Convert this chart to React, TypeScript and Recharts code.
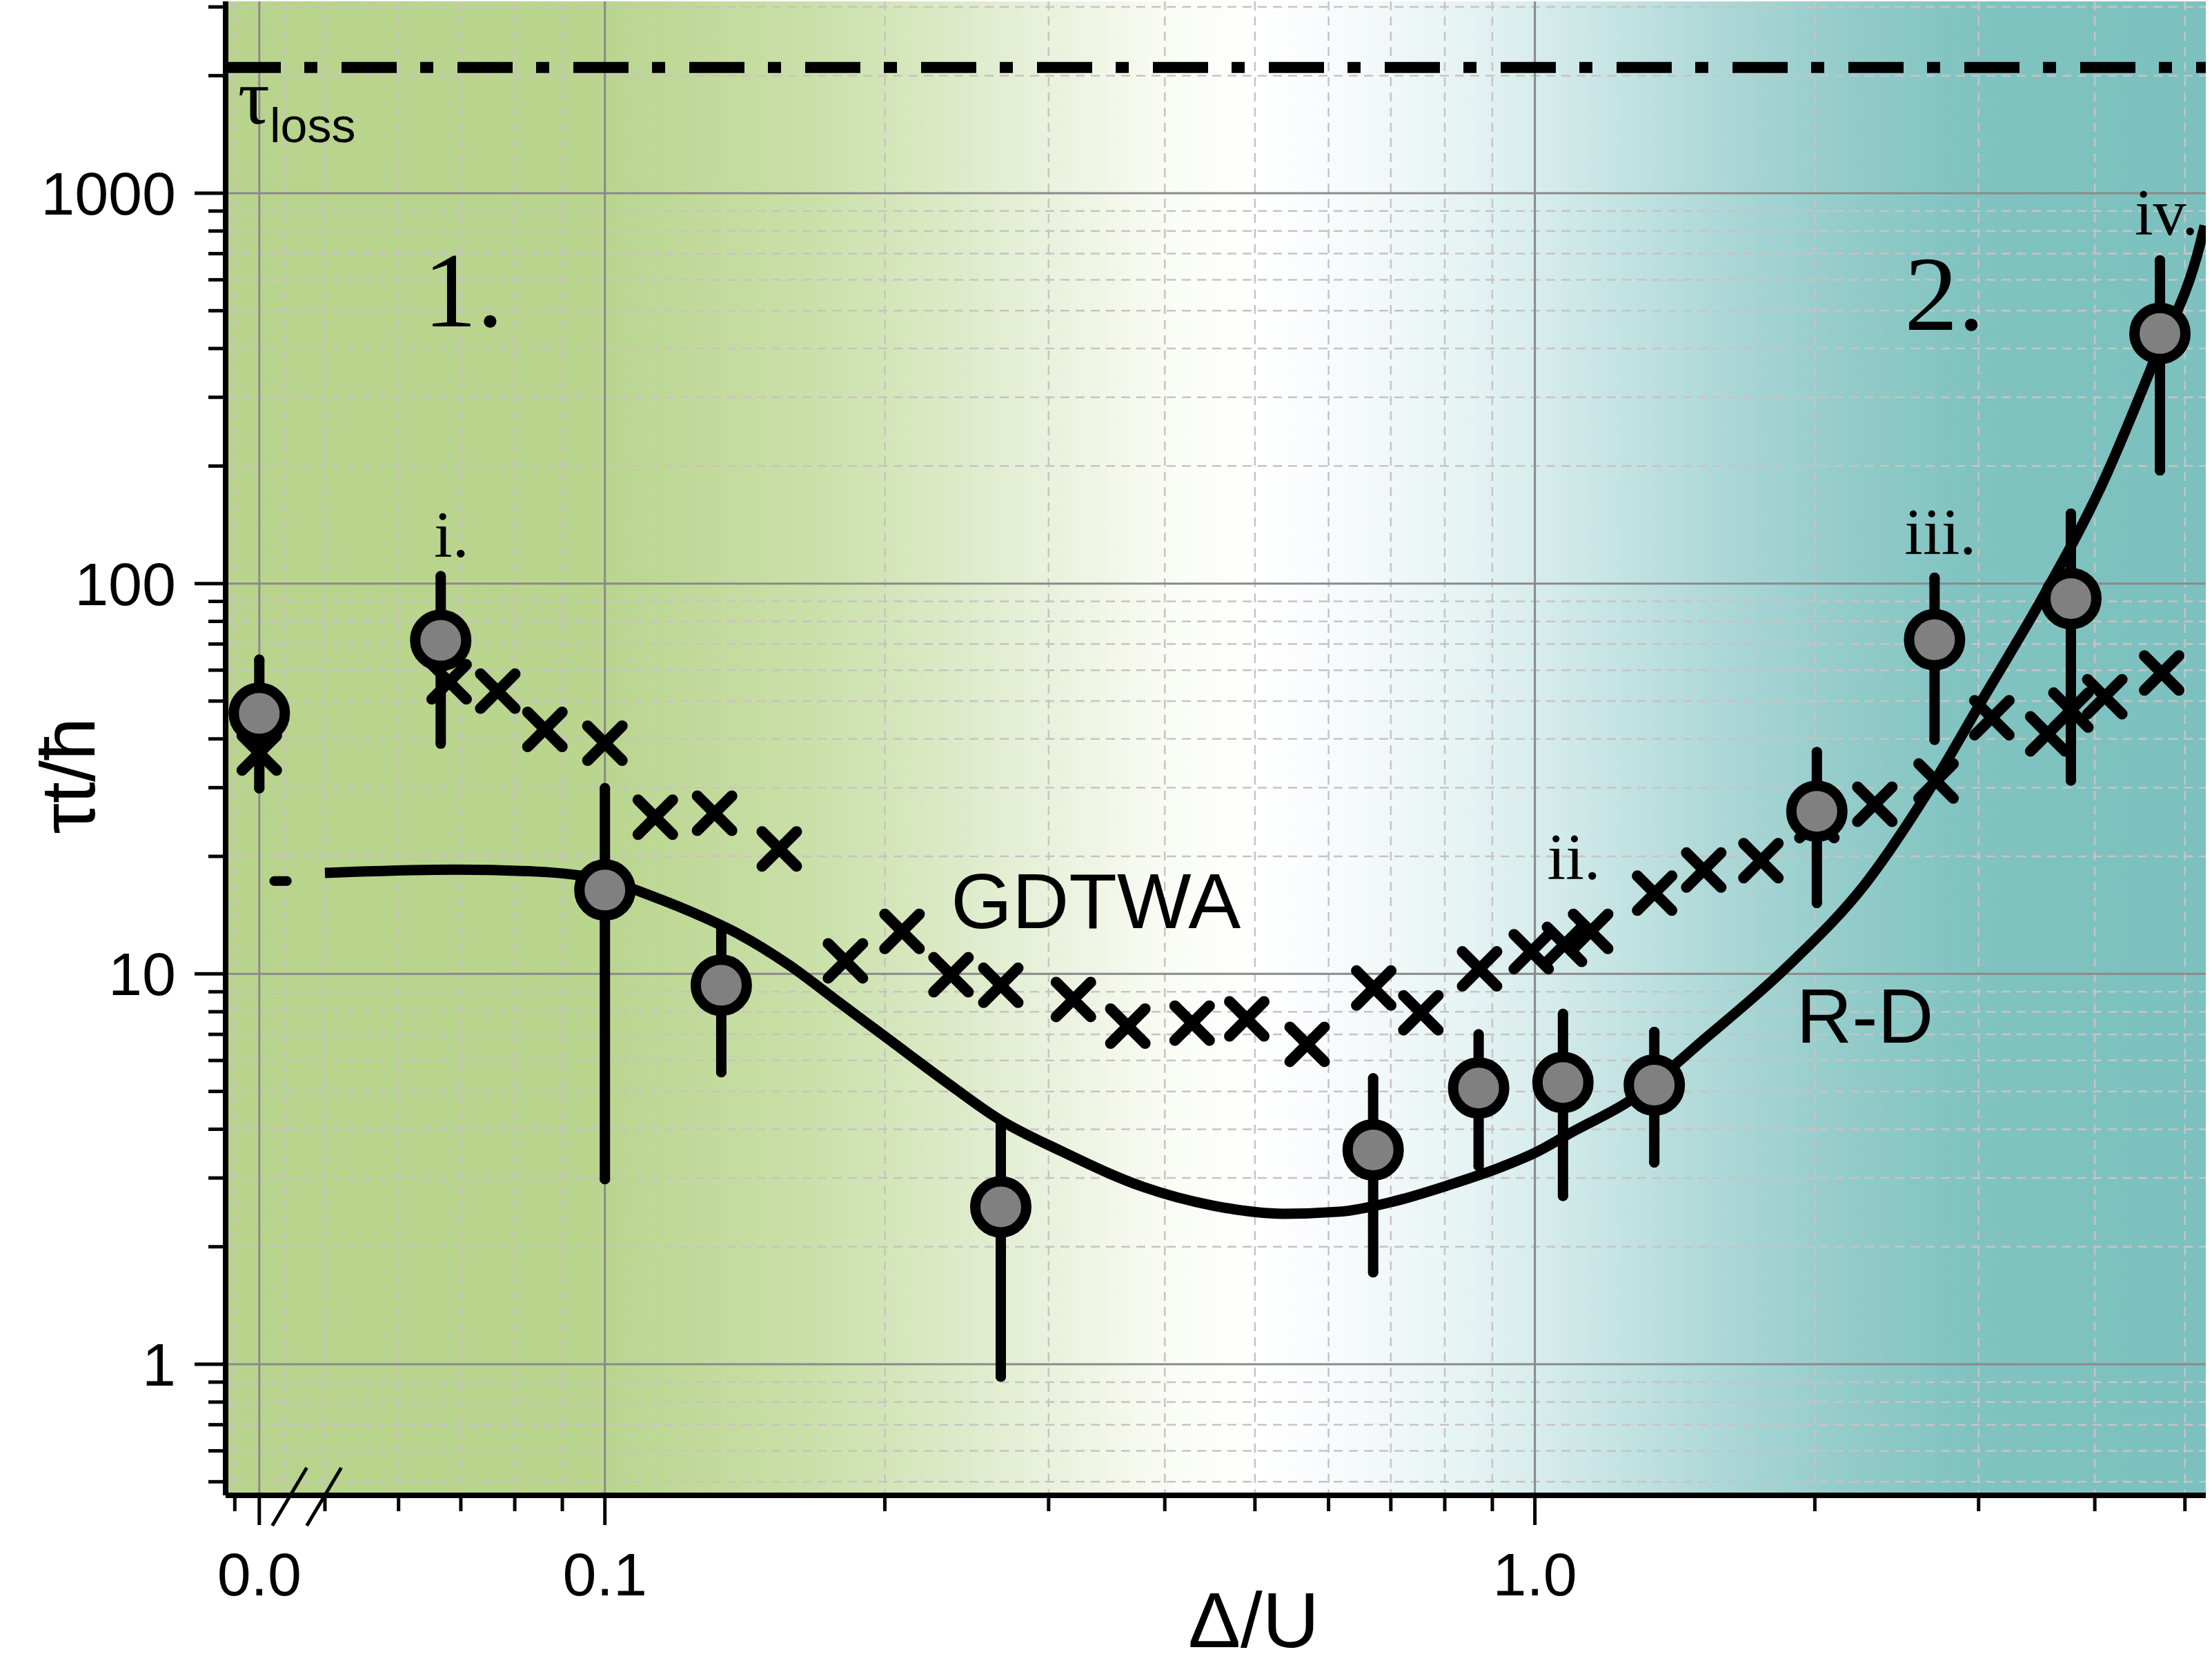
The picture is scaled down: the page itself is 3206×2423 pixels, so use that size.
import React from 'react';
import {
  ComposedChart,
  XAxis,
  YAxis,
  Scatter,
  Line,
  ErrorBar,
  ReferenceLine,
  ReferenceDot,
  CartesianGrid,
  Label,
} from 'recharts';

const SANS = '"Liberation Sans", Arial, Helvetica, sans-serif';
const SERIF = '"Liberation Serif", "Times New Roman", serif';

// position on the log axis where the broken-axis value "0.0" is drawn
const ZERO_X = 0.0425;
const BREAK_X = 0.0478;
const X_DOMAIN: [number, number] = [0.0391, 5.265];
const Y_DOMAIN: [number, number] = [0.4615, 3100];

const X_MAJOR_TICKS = [ZERO_X, 0.1, 1];
const X_MAJOR_LABELS = ['0.0', '0.1', '1.0'];
const X_MINOR_TICKS = [0.04, 0.05, 0.06, 0.07, 0.08, 0.09, 0.2, 0.3, 0.4, 0.5, 0.6, 0.7, 0.8, 0.9, 2, 3, 4, 5];
const X_MINOR_GRID = [0.04, 0.0452, 0.05, 0.06, 0.07, 0.08, 0.09, 0.2, 0.3, 0.4, 0.5, 0.6, 0.7, 0.8, 0.9, 2, 3, 4, 5];
const Y_MAJOR_TICKS = [1, 10, 100, 1000];
const Y_MAJOR_LABELS = ['1', '10', '100', '1000'];
const Y_MINOR_TICKS = [
  0.5, 0.6, 0.7, 0.8, 0.9, 2, 3, 4, 5, 6, 7, 8, 9, 20, 30, 40, 50, 60, 70, 80, 90,
  200, 300, 400, 500, 600, 700, 800, 900, 2000, 3000,
];

const TAU_LOSS = 2100;

// experiment (circles with error bars)
const EXP_X = [ZERO_X, 0.0666, 0.1, 0.1334, 0.2665, 0.67, 0.87, 1.072, 1.344, 2.01, 2.69, 3.77, 4.7];
const EXP_Y = [46.5, 71.5, 16.4, 9.35, 2.53, 3.54, 5.1, 5.27, 5.19, 26.1, 71.8, 91.5, 437];
const EXP_LO = [29.9, 38.9, 2.98, 5.6, 0.93, 1.72, 3.22, 2.7, 3.29, 15.2, 39.8, 31.3, 195];
const EXP_HI = [63.8, 104.4, 29.9, 13.2, 4.09, 5.4, 7.0, 7.9, 7.1, 37, 103.5, 151, 672];

// GDTWA (crosses)
const GDTWA_X = [
  ZERO_X, 0.068, 0.0767, 0.0862, 0.1, 0.1133, 0.1312, 0.154, 0.1814, 0.2087, 0.2356, 0.2665,
  0.319, 0.365, 0.428, 0.49, 0.569, 0.671, 0.754, 0.872, 0.991, 1.076, 1.148, 1.345, 1.519,
  1.75, 2.01, 2.32, 2.7, 3.1, 3.56, 3.77, 4.1, 4.72,
];
const GDTWA_Y = [
  36.8, 56, 53, 42.3, 39.0, 25.2, 25.8, 20.9, 10.8, 12.85, 9.95, 9.35,
  8.6, 7.35, 7.48, 7.67, 6.6, 9.2, 7.95, 10.3, 11.4, 11.9, 12.85, 16.1, 18.45,
  19.5, 24.7, 27.2, 31.2, 45.3, 41.2, 47.4, 51.3, 59,
];

// R-D theory curve
const RD_X = [
  0.05, 0.069, 0.0839, 0.1, 0.1133, 0.1274, 0.1397, 0.1572, 0.179, 0.2041, 0.2324, 0.265,
  0.31, 0.3787, 0.4506, 0.5362, 0.6168, 0.699, 0.809, 0.92, 1.005, 1.1, 1.259, 1.532, 1.865,
  2.27, 2.687, 3.03, 3.51, 4.066, 4.62, 5.2, 5.25,
];
const RD_Y = [
  18.15, 18.5, 18.3, 17.4, 15.7, 14.0, 12.6, 10.6, 8.42, 6.67, 5.3, 4.25,
  3.51, 2.85, 2.55, 2.43, 2.46, 2.6, 2.88, 3.2, 3.5, 3.95, 4.7, 6.9, 10.4,
  17.1, 31.0, 50.5, 91.5, 178, 366, 752, 826,
];
// short R-D segment at Δ/U = 0
const RD_ZERO_X = [0.0441, 0.0455];
const RD_ZERO_Y = [17.3, 17.3];

const ANNOTATIONS = [
  { x: 0.0638, y: 456, text: '1.', size: 155, family: SERIF },
  { x: 2.497, y: 447, text: '2.', size: 155, family: SERIF },
  { x: 0.0655, y: 117, text: 'i.', size: 96, family: SERIF },
  { x: 1.031, y: 17.5, text: 'ii.', size: 96, family: SERIF },
  { x: 2.497, y: 119, text: 'iii.', size: 96, family: SERIF },
  { x: 4.415, y: 783, text: 'iv.', size: 96, family: SERIF },
  { x: 0.2356, y: 13.1, text: 'GDTWA', size: 114, family: SANS },
  { x: 1.91, y: 6.67, text: 'R-D', size: 112, family: SANS },
];

const expData = EXP_X.map((x, i) => ({
  x,
  y: EXP_Y[i],
  err: [EXP_Y[i] - EXP_LO[i], EXP_HI[i] - EXP_Y[i]],
}));
const gdtwaData = GDTWA_X.map((x, i) => ({ x, y: GDTWA_Y[i] }));
const rdData = RD_X.map((x, i) => ({ x, y: RD_Y[i] }));
const rdZeroData = RD_ZERO_X.map((x, i) => ({ x, y: RD_ZERO_Y[i] }));

const X_TICKS = [...X_MAJOR_TICKS, ...X_MINOR_TICKS].sort((a, b) => a - b);
const Y_TICKS = [...Y_MAJOR_TICKS, ...Y_MINOR_TICKS].sort((a, b) => a - b);

const XTick = (props: any) => {
  const { x, y, payload } = props;
  const idx = X_MAJOR_TICKS.indexOf(payload.value);
  const major = idx >= 0;
  return (
    <g>
      <line x1={x} x2={x} y1={y + 2} y2={y + (major ? 43 : 23)} stroke="#000" strokeWidth={5} />
      {major && (
        <text x={x} y={y + 145} textAnchor="middle" fontFamily={SANS} fontSize={88} fill="#000">
          {X_MAJOR_LABELS[idx]}
        </text>
      )}
    </g>
  );
};

const YTick = (props: any) => {
  const { x, y, payload } = props;
  const idx = Y_MAJOR_TICKS.indexOf(payload.value);
  const major = idx >= 0;
  return (
    <g>
      <line x1={x - (major ? 45 : 25)} x2={x - 2} y1={y} y2={y} stroke="#000" strokeWidth={5} />
      {major && (
        <text x={x - 72} y={y + 31} textAnchor="end" fontFamily={SANS} fontSize={88} fill="#000">
          {Y_MAJOR_LABELS[idx]}
        </text>
      )}
    </g>
  );
};

const CircleShape = (p: any) => (
  <circle cx={p.cx} cy={p.cy} r={37} fill="#808080" stroke="#000" strokeWidth={15} />
);

const CrossShape = (p: any) => {
  const s = 25;
  return (
    <g stroke="#000" strokeWidth={16} strokeLinecap="round">
      <line x1={p.cx - s} y1={p.cy - s} x2={p.cx + s} y2={p.cy + s} />
      <line x1={p.cx - s} y1={p.cy + s} x2={p.cx + s} y2={p.cy - s} />
    </g>
  );
};

const XTitle = (props: any) => {
  const vb = props.viewBox || { x: 327, y: 2167, width: 2870, height: 256 };
  return (
    <text x={vb.x + 1490} y={vb.y + 220} textAnchor="middle" fontFamily={SANS} fontSize={114} fill="#000">
      Δ/U
    </text>
  );
};

const YTitle = (props: any) => {
  const vb = props.viewBox || { x: 0, y: 2, width: 327, height: 2165 };
  const cx = vb.x + 137;
  const cy = vb.y + 1122;
  return (
    <text
      x={cx}
      y={cy}
      transform={`rotate(-90, ${cx}, ${cy})`}
      textAnchor="middle"
      fontFamily={SANS}
      fontSize={112}
      fill="#000"
    >
      τt/ħ
    </text>
  );
};

export default function App() {
  return (
    <div style={{ position: 'absolute', left: 0, top: 0, width: 3206, height: 2423, background: '#fff' }}>
      <ComposedChart width={3206} height={2423} margin={{ top: 2, right: 9, bottom: 0, left: 0 }}>
        <defs>
          <linearGradient id="bgGrad" x1="0" y1="0" x2="1" y2="0">
            <stop offset="0" stopColor="#b8d48c" />
            <stop offset="0.19" stopColor="#b9d58e" />
            <stop offset="0.30" stopColor="#cbe0aa" />
            <stop offset="0.40" stopColor="#e5efd6" />
            <stop offset="0.48" stopColor="#fafcf6" />
            <stop offset="0.52" stopColor="#ffffff" />
            <stop offset="0.57" stopColor="#f6fafb" />
            <stop offset="0.62" stopColor="#e8f4f4" />
            <stop offset="0.665" stopColor="#d6ecec" />
            <stop offset="0.74" stopColor="#b3dbda" />
            <stop offset="0.81" stopColor="#96cdcb" />
            <stop offset="0.88" stopColor="#80c3c1" />
            <stop offset="1" stopColor="#7cc1bf" />
          </linearGradient>
        </defs>
        <CartesianGrid
          fill="url(#bgGrad)"
          fillOpacity={1}
          stroke="#c8c3c3"
          strokeWidth={2.5}
          strokeDasharray="13 9"
          horizontalValues={Y_MINOR_TICKS}
          verticalValues={X_MINOR_GRID}
        />
        <CartesianGrid
          stroke="#8a8a8a"
          strokeWidth={3}
          horizontalValues={Y_MAJOR_TICKS}
          verticalValues={X_MAJOR_TICKS}
        />
        <XAxis
          dataKey="x"
          type="number"
          scale="log"
          domain={X_DOMAIN}
          allowDataOverflow
          ticks={X_TICKS}
          interval={0}
          tick={<XTick />}
          tickLine={false}
          tickSize={0}
          tickMargin={0}
          axisLine={{ stroke: '#000', strokeWidth: 8 }}
          height={256}
        >
          <Label content={<XTitle />} />
        </XAxis>
        <YAxis
          dataKey="y"
          type="number"
          scale="log"
          domain={Y_DOMAIN}
          allowDataOverflow
          ticks={Y_TICKS}
          interval={0}
          tick={<YTick />}
          tickLine={false}
          tickSize={0}
          tickMargin={0}
          axisLine={{ stroke: '#000', strokeWidth: 8 }}
          width={327}
        >
          <Label content={<YTitle />} />
        </YAxis>
        <ReferenceLine
          y={TAU_LOSS}
          stroke="#000"
          strokeWidth={16}
          strokeDasharray="80 34 19 35"
          ifOverflow="visible"
        />
        <Scatter data={gdtwaData} dataKey="y" shape={CrossShape} isAnimationActive={false} />
        <Line
          data={rdData}
          dataKey="y"
          type="monotone"
          stroke="#000"
          strokeWidth={15}
          dot={false}
          activeDot={false}
          isAnimationActive={false}
        />
        <Line
          data={rdZeroData}
          dataKey="y"
          type="linear"
          stroke="#000"
          strokeWidth={14}
          strokeLinecap="round"
          dot={false}
          activeDot={false}
          isAnimationActive={false}
        />
        <Scatter data={expData} dataKey="y" shape={CircleShape} isAnimationActive={false}>
          <ErrorBar dataKey="err" direction="y" width={0} stroke="#000" strokeWidth={15} strokeLinecap="round" />
        </Scatter>
        <ReferenceDot
          x={0.0403}
          y={TAU_LOSS}
          ifOverflow="visible"
          shape={(p: any) => (
            <text x={p.cx} y={p.cy + 81} fill="#000">
              <tspan fontFamily={SERIF} fontSize={115}>τ</tspan>
              <tspan fontFamily={SANS} fontSize={70} dy={27}>loss</tspan>
            </text>
          )}
        />
        <ReferenceDot
          x={BREAK_X}
          y={Y_DOMAIN[0]}
          ifOverflow="visible"
          shape={(p: any) => (
            <g stroke="#000" strokeWidth={5}>
              <line x1={p.cx - 50} y1={p.cy + 44} x2={p.cx} y2={p.cy - 40} />
              <line x1={p.cx} y1={p.cy + 44} x2={p.cx + 50} y2={p.cy - 40} />
            </g>
          )}
        />
        {ANNOTATIONS.map((a) => (
          <ReferenceDot
            key={a.text}
            x={a.x}
            y={a.y}
            ifOverflow="visible"
            shape={(p: any) => (
              <text x={p.cx} y={p.cy} fontFamily={a.family} fontSize={a.size} fill="#000">
                {a.text}
              </text>
            )}
          />
        ))}
      </ComposedChart>
    </div>
  );
}
